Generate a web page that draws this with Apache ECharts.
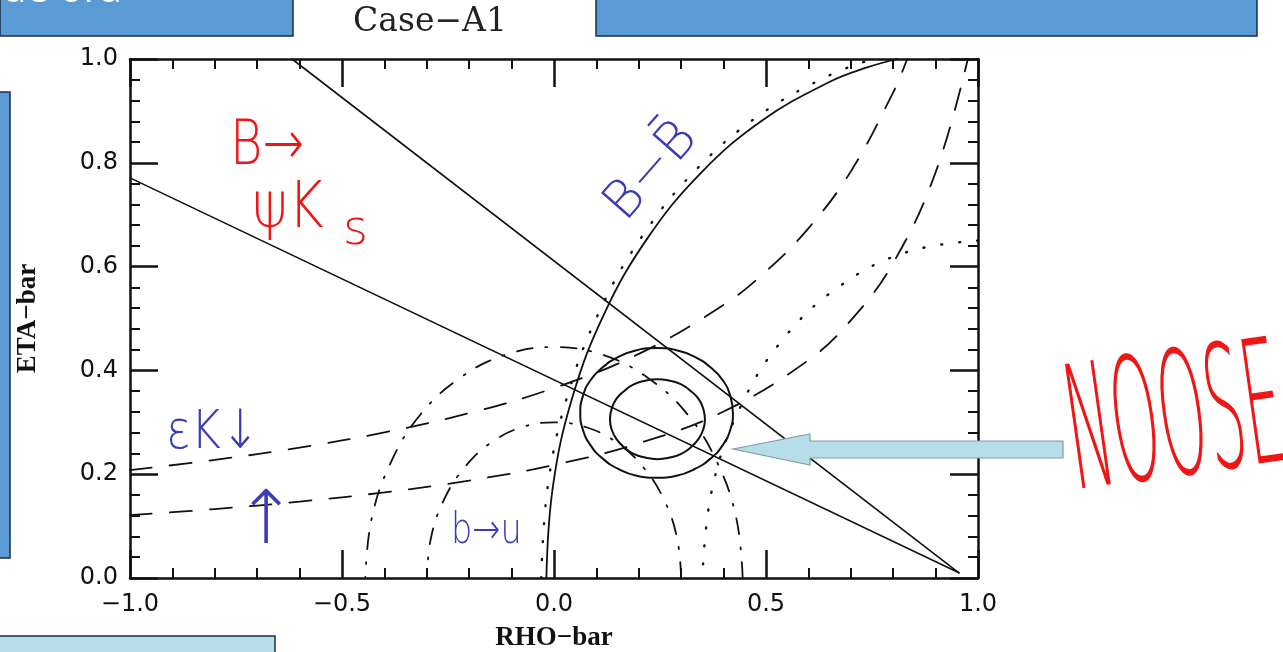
<!DOCTYPE html>
<html>
<head>
<meta charset="utf-8">
<script src="https://cdn.jsdelivr.net/npm/echarts@6/dist/echarts.min.js"></script>
<style>
  html, body { margin: 0; padding: 0; background: #ffffff; }
  #chart { width: 1283px; height: 652px; }
</style>
</head>
<body>
<div id="chart"></div>
<script>
// Axis ranges and labelled ticks
const rhoTicks = [-1.0, -0.5, 0.0, 0.5, 1.0];
const etaTicks = [0.0, 0.2, 0.4, 0.6, 0.8, 1.0];

// sin2β band from B → ψK_S (two straight lines meeting near ρ ≈ 0.95)
const psiKsUpper = [[-0.618, 1.0], [0.955, 0.010]];
const psiKsLower = [[-1.0, 0.771], [0.955, 0.010]];

// B–B̄ mixing: solid arc and dotted companion, both around (1, 0)
const mixingArc = [
  [-0.018, 0.0], [-0.0025, 0.1767], [0.0434, 0.3482], [0.1184, 0.509],
  [0.2202, 0.6544], [0.3456, 0.7798], [0.491, 0.8816], [0.6518, 0.9566],
  [0.7365, 0.9833], [0.809, 1.0]
];
const mixingLimit = [
  [-0.030, 0.0], [-0.0143, 0.1788], [0.0321, 0.3523], [0.108, 0.515],
  [0.211, 0.6621], [0.3379, 0.789], [0.485, 0.892], [0.6477, 0.9679],
  [0.7526, 1.0]
];

// εK hyperbolas (long dashes)
const epsKUpper = [
  [-1.0, 0.208], [-0.8, 0.2275], [-0.6, 0.2513], [-0.4, 0.2806], [-0.2, 0.3177],
  [0.0, 0.3661], [0.2, 0.4318], [0.4, 0.5263], [0.5, 0.5909], [0.6, 0.6737],
  [0.7, 0.7834], [0.8, 0.9358], [0.833, 1.0]
];
const epsKLower = [
  [-1.0, 0.121], [-0.8, 0.1328], [-0.6, 0.1472], [-0.4, 0.1650], [-0.2, 0.1878],
  [0.0, 0.2179], [0.2, 0.2595], [0.4, 0.3208], [0.6, 0.4198], [0.7, 0.4964],
  [0.8, 0.6071], [0.9, 0.7816], [0.976, 1.0]
];

// b → u circles around the origin (dash-dot)
const vubOuter = [
  [0.445, 0.0], [0.430, 0.115], [0.385, 0.2225], [0.315, 0.315], [0.2225, 0.385],
  [0.115, 0.430], [0.0, 0.445], [-0.115, 0.430], [-0.2225, 0.385], [-0.315, 0.315],
  [-0.385, 0.2225], [-0.430, 0.115], [-0.445, 0.0]
];
const vubInner = [
  [0.300, 0.0], [0.290, 0.078], [0.260, 0.150], [0.212, 0.212], [0.150, 0.260],
  [0.078, 0.290], [0.0, 0.300], [-0.078, 0.290], [-0.150, 0.260], [-0.212, 0.212],
  [-0.260, 0.150], [-0.290, 0.078], [-0.300, 0.0]
];

// Δm circle around (1, 0) (dotted)
const dmCircle = [
  [1.0, 0.65], [0.832, 0.628], [0.675, 0.563], [0.540, 0.460],
  [0.437, 0.325], [0.372, 0.168], [0.350, 0.0]
];

// Fit contours
const fitOuter = [
  [0.422, 0.318], [0.416, 0.350], [0.398, 0.381], [0.369, 0.406], [0.332, 0.426],
  [0.289, 0.439], [0.242, 0.443], [0.195, 0.439], [0.152, 0.426], [0.115, 0.406],
  [0.086, 0.381], [0.068, 0.350], [0.062, 0.318], [0.068, 0.286], [0.086, 0.256],
  [0.115, 0.230], [0.152, 0.210], [0.195, 0.197], [0.242, 0.193], [0.289, 0.197],
  [0.332, 0.210], [0.369, 0.230], [0.398, 0.256], [0.416, 0.286], [0.422, 0.318],
  [0.416, 0.350]
];
const fitInner = [
  [0.356, 0.306], [0.352, 0.326], [0.341, 0.345], [0.323, 0.360], [0.300, 0.373],
  [0.273, 0.380], [0.244, 0.383], [0.215, 0.380], [0.188, 0.373], [0.165, 0.360],
  [0.147, 0.345], [0.136, 0.326], [0.132, 0.306], [0.136, 0.286], [0.147, 0.268],
  [0.165, 0.252], [0.188, 0.239], [0.215, 0.232], [0.244, 0.229], [0.273, 0.232],
  [0.300, 0.239], [0.323, 0.252], [0.341, 0.268], [0.352, 0.286], [0.356, 0.306],
  [0.352, 0.326]
];

const INK = '#111111';
const LONG_DASH = [22, 18];
const DASH_DOT = [16, 13, 2, 13];
const DOTS = [1, 17];

const tickFont = { fontFamily: 'DejaVu Sans', fontSize: 24, color: '#111111' };
const nameFont = { fontFamily: 'Liberation Serif', fontWeight: 'bold', fontSize: 27, color: '#111111' };
const fmt = v => (v < 0 ? '\u2212' : '') + Math.abs(v).toFixed(1);

const RED = '#F01616';
const BLUE = '#3C3CB4';
const HAND = '"DejaVu Sans", sans-serif';

function frameAxis(pos, min, max, step, extra) {
  return Object.assign({
    type: 'value', position: pos, min: min, max: max, interval: step,
    axisLine: { show: true, onZero: false, lineStyle: { color: INK, width: 2.5 } },
    axisTick: { show: true, inside: true, length: 28, lineStyle: { color: INK, width: 2.5 } },
    minorTick: { show: true, splitNumber: 5, length: 10, lineStyle: { color: INK, width: 2 } },
    splitLine: { show: false },
    minorSplitLine: { show: false },
    axisLabel: { show: false }
  }, extra || {});
}

function curve(data, type, width, extra) {
  return Object.assign({
    type: 'line', data: data, xAxisIndex: 0, yAxisIndex: 0,
    showSymbol: false, symbol: 'none', smooth: 0.4, silent: true,
    lineStyle: { color: INK, width: width, type: type, cap: 'round' },
    z: 3
  }, extra || {});
}

function note(text, x, y, size, color, extra) {
  return Object.assign({
    type: 'text', z: 70, x: x, y: y,
    style: { text: text, fill: color, font: '200 ' + size + 'px ' + HAND, textVerticalAlign: 'middle' }
  }, extra || {});
}

const chart = echarts.init(document.getElementById('chart'), null, { renderer: 'canvas' });

chart.setOption({
  animation: false,
  backgroundColor: '#ffffff',
  grid: { left: 130, top: 59, width: 848, height: 519, containLabel: false, outerBoundsMode: 'none' },
  xAxis: [
    frameAxis('bottom', rhoTicks[0], rhoTicks[rhoTicks.length - 1], 0.5, {
      axisLabel: Object.assign({ show: true, margin: 15, formatter: fmt }, tickFont),
      name: 'RHO\u2212bar', nameLocation: 'middle', nameGap: 47, nameTextStyle: nameFont
    }),
    frameAxis('top', rhoTicks[0], rhoTicks[rhoTicks.length - 1], 0.5)
  ],
  yAxis: [
    frameAxis('left', etaTicks[0], etaTicks[etaTicks.length - 1], 0.2, {
      axisLabel: Object.assign({ show: true, margin: 12, formatter: fmt }, tickFont),
      name: 'ETA\u2212bar', nameLocation: 'middle', nameGap: 88, nameTextStyle: nameFont
    }),
    frameAxis('right', etaTicks[0], etaTicks[etaTicks.length - 1], 0.2)
  ],
  series: [
    curve(psiKsUpper, 'solid', 1.6, { smooth: false }),
    curve(psiKsLower, 'solid', 1.6, { smooth: false }),
    curve(mixingArc, 'solid', 1.8),
    curve(mixingLimit, DOTS, 2.4),
    curve(epsKUpper, LONG_DASH, 1.8),
    curve(epsKLower, LONG_DASH, 1.8),
    curve(vubOuter, DASH_DOT, 1.8),
    curve(vubInner, DASH_DOT, 1.8),
    curve(dmCircle, DOTS, 2.4),
    curve(fitOuter, 'solid', 2.0, { smooth: 0.5 }),
    curve(fitInner, 'solid', 2.0, { smooth: 0.5 })
  ],
  graphic: [
    // slide furniture around the plot
    { type: 'rect', z: 50, shape: { x: 0, y: -2, width: 293, height: 38 },
      style: { fill: '#5B9BD5', stroke: '#1F2D44', lineWidth: 1.5 } },
    { type: 'text', z: 51, x: 2, y: 11,
      style: { text: 'de ora', fill: '#ffffff', font: '40px "Open Sans", sans-serif', textVerticalAlign: 'bottom' } },
    { type: 'rect', z: 50, shape: { x: 596, y: -2, width: 661, height: 38 },
      style: { fill: '#5B9BD5', stroke: '#1F2D44', lineWidth: 1.5 } },
    { type: 'rect', z: 50, shape: { x: -2, y: 92, width: 12, height: 466 },
      style: { fill: '#5B9BD5', stroke: '#1F2D44', lineWidth: 1.5 } },
    { type: 'rect', z: 50, shape: { x: -2, y: 636, width: 277, height: 20 },
      style: { fill: '#B7DEE8', stroke: '#1F2D44', lineWidth: 1.5 } },
    { type: 'text', z: 51, x: 430, y: 22,
      style: { text: 'Case\u2212A1', fill: '#222222', font: '33px "DejaVu Serif", serif',
               textAlign: 'center', textVerticalAlign: 'middle' } },
    // callout arrow
    { type: 'polygon', z: 60,
      shape: { points: [[733, 449], [810, 434], [810, 441], [1063, 441], [1063, 458], [810, 458], [810, 465]] },
      style: { fill: '#B7DEE8', stroke: '#7E9EA8', lineWidth: 1.2 } },
    // hand-written notes
    note('B\u2192', 230, 148, 62, RED, { scaleX: 0.8 }),
    note('\u03C8K', 252, 210, 64, RED, { scaleX: 0.85 }),
    note('s', 343, 232, 48, RED),
    note('B\u2212B\u0304', 652, 172, 52, BLUE, { rotation: 0.85, style: { text: 'B\u2212B\u0304', fill: BLUE,
      font: '200 52px ' + HAND, textAlign: 'center', textVerticalAlign: 'middle' } }),
    note('\u03B5K\u2193', 166, 434, 54, BLUE, { scaleX: 0.85 }),
    note('\u2191', 266, 524, 74, BLUE, { style: { text: '\u2191', fill: BLUE, font: '200 74px ' + HAND,
      textAlign: 'center', textVerticalAlign: 'middle' } }),
    note('b\u2192u', 451, 532, 42, BLUE, { scaleX: 0.8 }),
    note('NOOSE', 1176, 430, 172, RED, { rotation: 0.14, scaleX: 0.35, style: { text: 'NOOSE', fill: RED,
      font: '200 172px ' + HAND, textAlign: 'center', textVerticalAlign: 'middle' } })
  ]
});
</script>
</body>
</html>
